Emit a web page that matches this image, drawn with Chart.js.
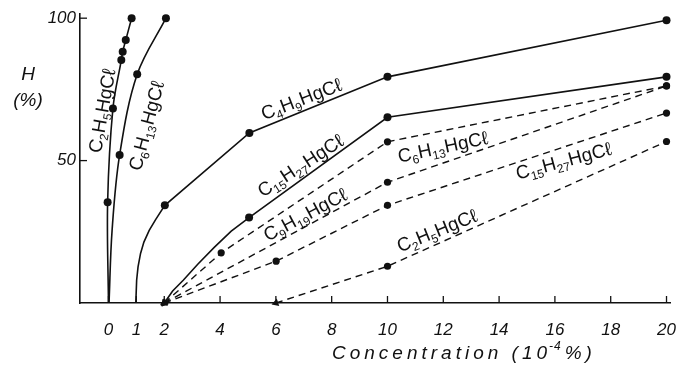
<!DOCTYPE html>
<html>
<head>
<meta charset="utf-8">
<script src="https://cdn.jsdelivr.net/npm/chart.js@4.4.0/dist/chart.umd.min.js"></script>
<style>
  html, body { margin: 0; padding: 0; background: #fff; }
  #wrap { width: 693px; height: 371px; }
</style>
</head>
<body>
<div id="wrap"><canvas id="chart" width="693" height="371"></canvas></div>
<script>
// axis ticks
const xTicks = [0, 1, 2, 4, 6, 8, 10, 12, 14, 16, 18, 20];
const yTicks = [50, 100];

// solid curves (first point(s) = start on axis / traced bend, no dot)
const c2h5SolidX = [0, -0.03, 0.16, 0.46, 0.51, 0.62, 0.83];
const c2h5SolidY = [0, 35.4, 68.3, 85.3, 88.2, 92.3, 100];

const c6h13SolidX = [0.02, 0.13, 0.4, 1.03, 2.06];
const c6h13SolidY = [0, 25.5, 52, 80.3, 100];

const c4h9SolidX = [0.98, 1.01, 1.06, 1.15, 1.27, 1.46, 1.69, 2.02, 5.05, 10, 20];
const c4h9SolidY = [0, 8, 12.7, 17.4, 21.4, 25.5, 29.3, 34.3, 59.7, 79.4, 99.3];

const c15h27SolidX = [2, 2.3, 2.68, 3.2, 3.8, 4.4, 5.04, 10, 20];
const c15h27SolidY = [0, 4.2, 8, 13.6, 19.6, 25.2, 30, 65.2, 79.4];

// dashed lines
const c6h13DashX = [2, 4.04, 10, 20];
const c6h13DashY = [0, 17.6, 56.6, 76.2];

const c9h19DashX = [2, 10, 20];
const c9h19DashY = [0, 42.4, 76.2];

const c15h27DashX = [2, 6.01, 10, 20];
const c15h27DashY = [0, 14.7, 34.3, 66.7];

const c2h5DashX = [6, 10, 20];
const c2h5DashY = [0, 12.9, 56.7];

const ink = '#111';

const series = [
  { x: c2h5SolidX, y: c2h5SolidY, lead: 1, dashed: false, tension: 0.35, arrow: false },
  { x: c6h13SolidX, y: c6h13SolidY, lead: 2, dashed: false, tension: 0.35, arrow: false },
  { x: c4h9SolidX, y: c4h9SolidY, lead: 7, dashed: false, tension: 0, arrow: false },
  { x: c15h27SolidX, y: c15h27SolidY, lead: 6, dashed: false, tension: 0, arrow: true },
  { x: c6h13DashX, y: c6h13DashY, lead: 1, dashed: true, tension: 0, arrow: true },
  { x: c9h19DashX, y: c9h19DashY, lead: 1, dashed: true, tension: 0, arrow: true },
  { x: c15h27DashX, y: c15h27DashY, lead: 1, dashed: true, tension: 0, arrow: true },
  { x: c2h5DashX, y: c2h5DashY, lead: 1, dashed: true, tension: 0, arrow: true }
];

// curve labels: formula, centre (data units), angle (deg)
const curveLabels = [
  { t: 'C_2H_5HgCℓ', x: -0.24, y: 67.5, a: -80 },
  { t: 'C_6H_13HgCℓ', x: 1.35, y: 62.2, a: -75 },
  { t: 'C_4H_9HgCℓ', x: 6.91, y: 71.7, a: -21 },
  { t: 'C_15H_27HgCℓ', x: 6.88, y: 48.3, a: -33 },
  { t: 'C_6H_13HgCℓ', x: 11.98, y: 54.9, a: -12 },
  { t: 'C_9H_19HgCℓ', x: 7.05, y: 31.1, a: -28 },
  { t: 'C_15H_27HgCℓ', x: 16.31, y: 50, a: -15 },
  { t: 'C_2H_5HgCℓ', x: 11.77, y: 25.5, a: -22 }
];

function arrowAngle(c) {
  const d = c.dataset.data;
  const xs = c.chart.scales.x, ys = c.chart.scales.y;
  const dx = xs.getPixelForValue(d[0].x) - xs.getPixelForValue(d[1].x);
  const dy = ys.getPixelForValue(d[0].y) - ys.getPixelForValue(d[1].y);
  return Math.atan2(dx, -dy) * 180 / Math.PI;
}

const datasets = series.map(s => ({
  data: s.x.map((v, i) => ({ x: v, y: s.y[i] })),
  showLine: true,
  fill: false,
  clip: false,
  borderColor: ink,
  borderWidth: s.dashed ? 1.4 : 1.6,
  borderDash: s.dashed ? [7, 5] : [],
  tension: s.tension,
  pointBackgroundColor: ink,
  pointBorderColor: ink,
  pointBorderWidth: 0,
  pointRadius: c => c.dataIndex < s.lead ? (s.arrow && c.dataIndex === 0 ? 4.5 : 0) : (s.dashed ? 3.6 : 4),
  pointStyle: c => (s.arrow && c.dataIndex === 0) ? 'triangle' : 'circle',
  pointRotation: c => (s.arrow && c.dataIndex === 0) ? arrowAngle(c) : 0
}));

function drawFormula(ctx, str, cx, cy, angle, size) {
  const parts = str.match(/_\d+|[^_]+/g);
  const big = size + 'px "Liberation Sans", sans-serif';
  const small = Math.round(size * 0.62) + 'px "Liberation Sans", sans-serif';
  let w = 0;
  parts.forEach(p => {
    ctx.font = p[0] === '_' ? small : big;
    w += ctx.measureText(p[0] === '_' ? p.slice(1) : p).width;
  });
  ctx.save();
  ctx.translate(cx, cy);
  ctx.rotate(angle * Math.PI / 180);
  ctx.fillStyle = ink;
  ctx.textBaseline = 'alphabetic';
  let x = -w / 2;
  parts.forEach(p => {
    const sub = p[0] === '_';
    const txt = sub ? p.slice(1) : p;
    ctx.font = sub ? small : big;
    ctx.fillText(txt, x, size * 0.35 + (sub ? size * 0.22 : 0));
    x += ctx.measureText(txt).width;
  });
  ctx.restore();
}

function spacedText(ctx, txt, x, y, gap) {
  for (const ch of txt) {
    ctx.fillText(ch, x, y);
    x += ctx.measureText(ch).width + gap;
  }
  return x;
}

const decor = {
  id: 'decor',
  afterDraw(chart) {
    const ctx = chart.ctx;
    const xs = chart.scales.x, ys = chart.scales.y;
    const a = chart.chartArea;
    ctx.save();
    ctx.strokeStyle = ink;
    ctx.lineWidth = 1.3;
    // inward tick marks
    xTicks.forEach(v => {
      const px = xs.getPixelForValue(v);
      ctx.beginPath(); ctx.moveTo(px, a.bottom); ctx.lineTo(px, a.bottom - 7); ctx.stroke();
    });
    yTicks.forEach(v => {
      const py = ys.getPixelForValue(v);
      ctx.beginPath(); ctx.moveTo(a.left, py); ctx.lineTo(a.left + 7, py); ctx.stroke();
    });
    // curve labels
    curveLabels.forEach(l => drawFormula(ctx, l.t, xs.getPixelForValue(l.x), ys.getPixelForValue(l.y), l.a, 19));
    // y axis name
    ctx.fillStyle = ink;
    ctx.textBaseline = 'middle';
    ctx.textAlign = 'center';
    ctx.font = 'italic 19px "Liberation Sans", sans-serif';
    ctx.fillText('H', 28, 75);
    ctx.fillText('(%)', 28, 101);
    // x axis name
    ctx.textAlign = 'left';
    ctx.textBaseline = 'alphabetic';
    let x = spacedText(ctx, 'Concentration (10', 332, 359, 4);
    ctx.font = 'italic 12px "Liberation Sans", sans-serif';
    x = spacedText(ctx, '-4', x - 2, 350, 1);
    ctx.font = 'italic 19px "Liberation Sans", sans-serif';
    spacedText(ctx, '%)', x + 3, 359, 4);
    ctx.restore();
  }
};

new Chart(document.getElementById('chart'), {
  type: 'scatter',
  data: { datasets },
  options: {
    responsive: false,
    animation: false,
    events: [],
    layout: { padding: { top: 13, right: 2, left: 0, bottom: 0 } },
    plugins: { legend: { display: false }, tooltip: { enabled: false } },
    scales: {
      x: {
        type: 'linear',
        min: -1.02,
        max: 20.16,
        grid: { display: false, drawTicks: false },
        border: { display: true, color: ink, width: 1.6 },
        afterBuildTicks: s => { s.ticks = xTicks.map(v => ({ value: v })); },
        afterFit: s => { s.height = 68; },
        ticks: {
          autoSkip: false, maxRotation: 0, padding: 17, color: ink,
          font: { family: '"Liberation Sans", sans-serif', size: 17, style: 'italic' }
        }
      },
      y: {
        type: 'linear',
        min: 0,
        max: 101.4,
        grid: { display: false, drawTicks: false },
        border: { display: true, color: ink, width: 1.6 },
        afterBuildTicks: s => { s.ticks = yTicks.map(v => ({ value: v })); },
        afterFit: s => { s.width = 80; },
        ticks: {
          autoSkip: false, padding: 4, color: ink,
          font: { family: '"Liberation Sans", sans-serif', size: 17, style: 'italic' }
        }
      }
    }
  },
  plugins: [decor]
});
</script>
</body>
</html>
